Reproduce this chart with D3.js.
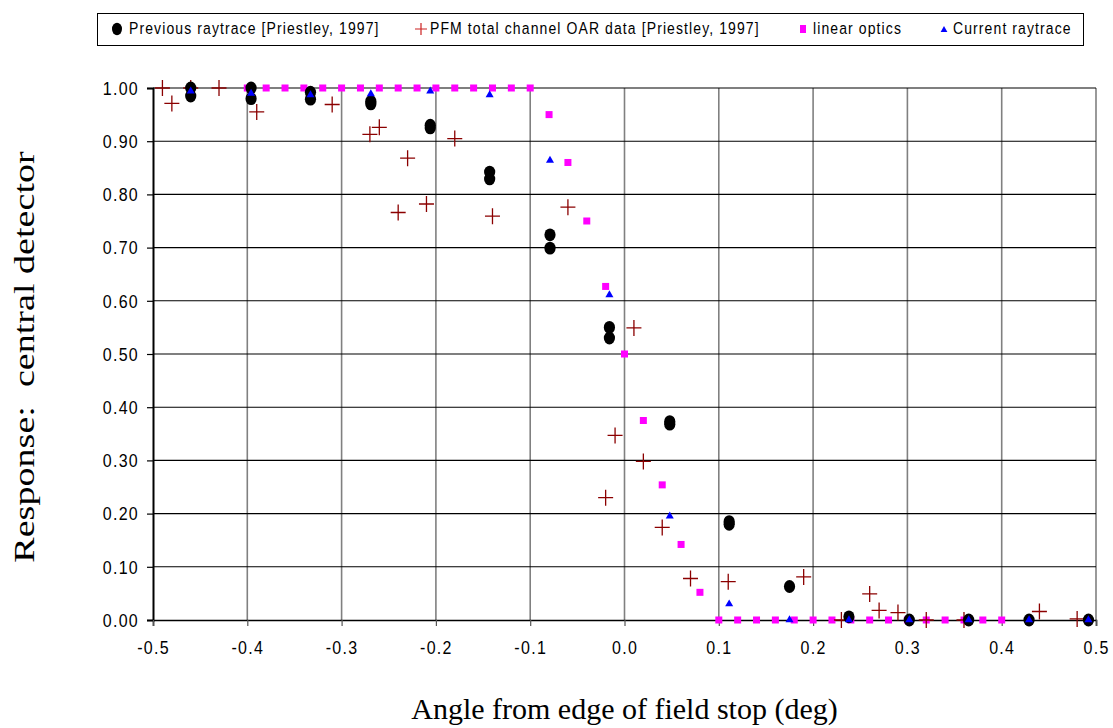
<!DOCTYPE html>
<html>
<head>
<meta charset="utf-8">
<script src="https://cdn.jsdelivr.net/npm/d3@7"></script>
<style>
  html, body { margin: 0; padding: 0; background: #fff; }
  svg { display: block; }
  .tick-label { font-family: "Liberation Sans", Arial, sans-serif; font-size: 16px; letter-spacing: 1.3px; fill: #000; }
  .legend-text { font-family: "Liberation Sans", Arial, sans-serif; font-size: 14px; letter-spacing: 1.1px; fill: #000; }
  .axis-title { font-family: "Liberation Serif", "Times New Roman", serif; font-size: 30px; fill: #000; }
</style>
</head>
<body>
<script>
// Previous raytrace [Priestley, 1997]
const prevX = [-0.46, -0.46, -0.396, -0.396, -0.333, -0.333, -0.269, -0.269, -0.206, -0.206,
               -0.143, -0.143, -0.079, -0.079, -0.016, -0.016, 0.048, 0.048, 0.111, 0.111,
               0.175, 0.238, 0.302, 0.365, 0.429, 0.492];
const prevY = [1.0, 0.985, 1.0, 0.98, 0.992, 0.979, 0.975, 0.970, 0.930, 0.925,
               0.842, 0.829, 0.724, 0.699, 0.550, 0.530, 0.373, 0.368, 0.185, 0.180,
               0.063, 0.006, 0.0, 0.0, 0.0, 0.0];

// PFM total channel OAR data [Priestley, 1997]
const pfmX = [-0.49, -0.48, -0.46, -0.43, -0.39, -0.31, -0.27, -0.26, -0.24, -0.23,
              -0.21, -0.18, -0.14, -0.06, -0.02, -0.01, 0.01, 0.02, 0.04, 0.07,
              0.11, 0.19, 0.23, 0.26, 0.27, 0.29, 0.32, 0.36, 0.44, 0.48];
const pfmY = [1.0, 0.971, 1.0, 1.0, 0.955, 0.969, 0.913, 0.926, 0.766, 0.868,
              0.782, 0.905, 0.759, 0.776, 0.230, 0.347, 0.549, 0.298, 0.174, 0.078,
              0.072, 0.081, 0.0, 0.049, 0.018, 0.014, 0.0, 0.0, 0.016, 0.002];

// linear optics
const linX = [-0.40, -0.38, -0.36, -0.34, -0.32, -0.30, -0.28, -0.26, -0.24, -0.22,
              -0.20, -0.18, -0.16, -0.14, -0.12, -0.10, -0.08, -0.06, -0.04, -0.02,
              0.00, 0.02, 0.04, 0.06, 0.08, 0.10, 0.12, 0.14, 0.16, 0.18,
              0.20, 0.22, 0.24, 0.26, 0.28, 0.30, 0.32, 0.34, 0.36, 0.38, 0.40];
const linY = [1.0, 1.0, 1.0, 1.0, 1.0, 1.0, 1.0, 1.0, 1.0, 1.0,
              1.0, 1.0, 1.0, 1.0, 1.0, 1.0, 0.950, 0.860, 0.750, 0.627,
              0.500, 0.375, 0.254, 0.142, 0.052, 0.0, 0.0, 0.0, 0.0, 0.0,
              0.0, 0.0, 0.0, 0.0, 0.0, 0.0, 0.0, 0.0, 0.0, 0.0, 0.0];

// Current raytrace
const curX = [-0.46, -0.396, -0.333, -0.269, -0.206, -0.143, -0.079, -0.016, 0.048, 0.111,
              0.175, 0.238, 0.302, 0.365, 0.429, 0.492];
const curY = [0.994, 0.990, 0.987, 0.989, 0.994, 0.987, 0.864, 0.611, 0.195, 0.030,
              0.0, 0.0, 0.0, 0.0, 0.0, 0.0];

const xTicks = [-0.5, -0.4, -0.3, -0.2, -0.1, 0.0, 0.1, 0.2, 0.3, 0.4, 0.5];
const xTickLabels = ["-0.5", "-0.4", "-0.3", "-0.2", "-0.1", "0.0", "0.1", "0.2", "0.3", "0.4", "0.5"];
const yTicks = [0, 0.1, 0.2, 0.3, 0.4, 0.5, 0.6, 0.7, 0.8, 0.9, 1.0];

const legendLabels = ["Previous raytrace [Priestley, 1997]",
                      "PFM total channel OAR data [Priestley, 1997]",
                      "linear optics",
                      "Current raytrace"];

const W = 1113, H = 728;
const margin = { left: 153, right: 17, top: 88, bottom: 108 };

const svg = d3.select("body").append("svg").attr("width", W).attr("height", H);

const x = d3.scaleLinear().domain([-0.5, 0.5]).range([margin.left, W - margin.right]);
const y = d3.scaleLinear().domain([0, 1]).range([H - margin.bottom, margin.top]);

const COL_PREV = "#000000", COL_PFM = "#8B0000", COL_LIN = "#FF00FF", COL_CUR = "#0000FF";

// grid: vertical lines grey, horizontal lines black
const grid = svg.append("g");
grid.selectAll("line.v").data(xTicks.slice(1)).join("line")
  .attr("x1", d => x(d)).attr("x2", d => x(d))
  .attr("y1", y(1)).attr("y2", y(0))
  .attr("stroke", "#808080").attr("stroke-width", 1.6);
grid.selectAll("line.h").data(yTicks.slice(1)).join("line")
  .attr("x1", x(-0.5)).attr("x2", x(0.5))
  .attr("y1", d => y(d)).attr("y2", d => y(d))
  .attr("stroke", "#000").attr("stroke-width", 1.1);

// axes
const yAxis = d3.axisLeft(y).tickValues(yTicks).tickSize(6).tickFormat(d3.format(".2f"));
const gy = svg.append("g").attr("transform", `translate(${x(-0.5)},0)`).call(yAxis);
gy.select(".domain").attr("stroke", "#000").attr("stroke-width", 2);
gy.selectAll(".tick line").attr("stroke", "#000").attr("stroke-width", 1.2);
gy.selectAll(".tick text").attr("class", "tick-label").attr("x", -14).attr("dy", "0.36em")
  .attr("transform", "scale(1,1.1)");

const xAxis = d3.axisBottom(x).tickValues(xTicks).tickSize(6)
  .tickFormat((d, i) => xTickLabels[i]);
const gx = svg.append("g").attr("transform", `translate(0,${y(0)})`).call(xAxis);
gx.select(".domain").attr("stroke", "#000").attr("stroke-width", 1.6);
gx.selectAll(".tick line").attr("stroke", "#555").attr("stroke-width", 1.2);
gx.selectAll(".tick text").attr("class", "tick-label").attr("y", 20).attr("dy", "0.71em")
  .attr("transform", "scale(1,1.1)");

// series
const plot = svg.append("g");

plot.append("g").selectAll("rect").data(linX.map((d, i) => [d, linY[i]])).join("rect")
  .attr("x", d => x(d[0]) - 3.5).attr("y", d => y(d[1]) - 3.5)
  .attr("width", 7).attr("height", 7).attr("fill", COL_LIN);

plot.append("g").selectAll("path").data(pfmX.map((d, i) => [d, pfmY[i]])).join("path")
  .attr("d", d => `M${x(d[0]) - 7.5},${y(d[1])}H${x(d[0]) + 7.5}M${x(d[0])},${y(d[1]) - 8}V${y(d[1]) + 8}`)
  .attr("stroke", COL_PFM).attr("stroke-width", 1.3).attr("fill", "none");

plot.append("g").selectAll("ellipse").data(prevX.map((d, i) => [d, prevY[i]])).join("ellipse")
  .attr("cx", d => x(d[0])).attr("cy", d => y(d[1]))
  .attr("rx", 5.6).attr("ry", 6.4).attr("fill", COL_PREV);

const tri = d3.symbol().type(d3.symbolTriangle).size(28);
plot.append("g").selectAll("path").data(curX.map((d, i) => [d, curY[i]])).join("path")
  .attr("transform", d => `translate(${x(d[0])},${y(d[1])})`)
  .attr("d", tri).attr("fill", COL_CUR);

// legend
const lg = svg.append("g");
lg.append("rect").attr("x", 97.5).attr("y", 13.5).attr("width", 986).attr("height", 32)
  .attr("fill", "#fff").attr("stroke", "#000").attr("stroke-width", 1);
const legendX = [117, 421, 803, 944];
const legendTextX = [129, 430, 813, 953];
const ly = 29;
lg.append("ellipse").attr("cx", legendX[0]).attr("cy", ly).attr("rx", 5).attr("ry", 6.2).attr("fill", COL_PREV);
lg.append("path").attr("d", `M${legendX[1] - 6},${ly}H${legendX[1] + 6}M${legendX[1]},${ly - 6}V${ly + 6}`)
  .attr("stroke", "#cc2222").attr("stroke-width", 1.2);
lg.append("rect").attr("x", legendX[2] - 3).attr("y", ly - 4).attr("width", 6).attr("height", 8).attr("fill", COL_LIN);
lg.append("path").attr("transform", `translate(${legendX[3]},${ly + 1})`)
  .attr("d", d3.symbol().type(d3.symbolTriangle).size(20)).attr("fill", COL_CUR);
// legend labels are drawn slightly taller than the base font
const legendScaleY = 1.12;
lg.selectAll("text").data(legendLabels).join("text")
  .attr("class", "legend-text")
  .attr("transform", `scale(1,${legendScaleY})`)
  .attr("x", (d, i) => legendTextX[i]).attr("y", (ly + 5) / legendScaleY)
  .text(d => d);

// axis titles
svg.append("text").attr("class", "axis-title")
  .attr("text-anchor", "middle")
  .attr("transform", `translate(34,357) rotate(-90) scale(1.27,1)`)
  .style("white-space", "pre")
  .text("Response:  central detector");

svg.append("text").attr("class", "axis-title")
  .attr("text-anchor", "middle")
  .attr("x", x(0)).attr("y", 719)
  .text("Angle from edge of field stop (deg)");
</script>
</body>
</html>
